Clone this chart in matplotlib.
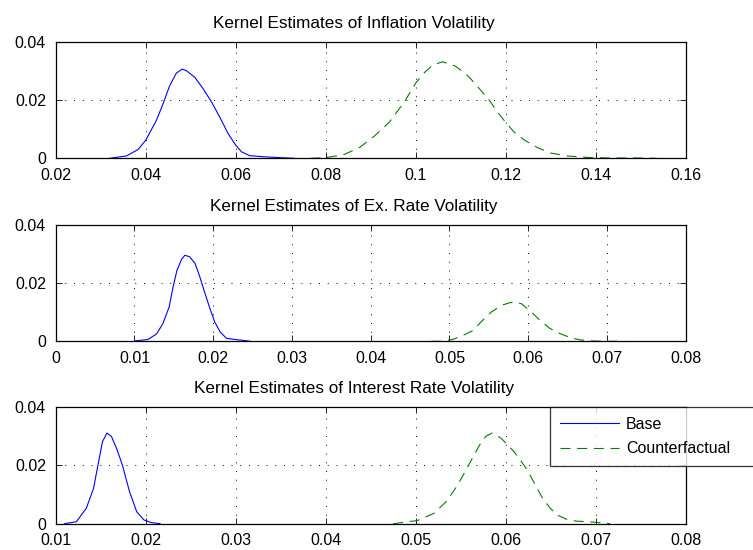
import matplotlib
matplotlib.use('Agg')
import matplotlib.pyplot as plt

plt.rcParams['font.family'] = ['Liberation Sans', 'DejaVu Sans']

# Inflation volatility
infl_base_x = [0.0320, 0.0357, 0.0383, 0.0400, 0.0424, 0.0439, 0.0453, 0.0468, 0.0481, 0.0490,
               0.0509, 0.0527, 0.0546, 0.0564, 0.0583, 0.0600, 0.0613, 0.0631, 0.0664, 0.0701, 0.0730]
infl_base_y = [0.0, 0.0008, 0.0030, 0.0062, 0.0131, 0.0189, 0.0248, 0.0292, 0.0306, 0.0301,
               0.0278, 0.0240, 0.0194, 0.0143, 0.0085, 0.0045, 0.0022, 0.0009, 0.0005, 0.0002, 0.0]
infl_cf_x = [0.0766, 0.0800, 0.0841, 0.0875, 0.0908, 0.0942, 0.0975, 0.1001, 0.1020, 0.1039,
             0.1060, 0.1087, 0.1110, 0.1128, 0.1147, 0.1166, 0.1181, 0.1199, 0.1218, 0.1240,
             0.1270, 0.1300, 0.1337, 0.1382, 0.1427, 0.1487, 0.1535]
infl_cf_y = [0.0, 0.0002, 0.0013, 0.0037, 0.0076, 0.0125, 0.0194, 0.0260, 0.0295, 0.0321,
             0.0331, 0.0317, 0.0292, 0.0263, 0.0229, 0.0194, 0.0160, 0.0125, 0.0091, 0.0064,
             0.0037, 0.0018, 0.0008, 0.0003, 0.0001, 0.0001, 0.0]

# Exchange rate volatility
ex_base_x = [0.0100, 0.0117, 0.0128, 0.0136, 0.0144, 0.0149, 0.0154, 0.0160, 0.0164, 0.0170,
             0.0177, 0.0183, 0.0189, 0.0196, 0.0202, 0.0209, 0.0217, 0.0228, 0.0238, 0.0247]
ex_base_y = [0.0001, 0.0006, 0.0025, 0.0060, 0.0117, 0.0186, 0.0244, 0.0282, 0.0295, 0.0290,
             0.0267, 0.0221, 0.0169, 0.0111, 0.0066, 0.0031, 0.0010, 0.0006, 0.0003, 0.0]
ex_cf_x = [0.0477, 0.0489, 0.0504, 0.0517, 0.0530, 0.0540, 0.0553, 0.0566, 0.0576, 0.0585,
           0.0592, 0.0604, 0.0614, 0.0627, 0.0638, 0.0653, 0.0665, 0.0682, 0.0695, 0.0722]
ex_cf_y = [0.0, 0.0, 0.0006, 0.0020, 0.0037, 0.0066, 0.0100, 0.0123, 0.0132, 0.0134,
           0.0128, 0.0100, 0.0075, 0.0045, 0.0029, 0.0013, 0.0005, 0.0001, 0.0, 0.0]

# Interest rate volatility
ir_base_x = [0.0110, 0.0123, 0.0134, 0.0142, 0.0147, 0.0152, 0.0157, 0.0162, 0.0168, 0.0174,
             0.0182, 0.0190, 0.0198, 0.0206, 0.0216]
ir_base_y = [0.0, 0.0007, 0.0053, 0.0121, 0.0202, 0.0282, 0.0311, 0.0299, 0.0255, 0.0202,
             0.0110, 0.0041, 0.0013, 0.0004, 0.0]
ir_cf_x = [0.0475, 0.0502, 0.0520, 0.0534, 0.0545, 0.0555, 0.0563, 0.0571, 0.0578, 0.0585,
           0.0595, 0.0609, 0.0617, 0.0625, 0.0633, 0.0641, 0.0649, 0.0657, 0.0668, 0.0678,
           0.0700, 0.0716]
ir_cf_y = [0.0, 0.0011, 0.0035, 0.0076, 0.0125, 0.0179, 0.0225, 0.0270, 0.0300, 0.0311,
           0.0293, 0.0248, 0.0215, 0.0179, 0.0132, 0.0087, 0.0055, 0.0030, 0.0015, 0.0009,
           0.0005, 0.0]

titles = ['Kernel Estimates of Inflation Volatility',
          'Kernel Estimates of Ex. Rate Volatility',
          'Kernel Estimates of Interest Rate Volatility']
xlims = [(0.02, 0.16), (0.0, 0.08), (0.01, 0.08)]
xticks = [[0.02, 0.04, 0.06, 0.08, 0.1, 0.12, 0.14, 0.16],
          [0, 0.01, 0.02, 0.03, 0.04, 0.05, 0.06, 0.07, 0.08],
          [0.01, 0.02, 0.03, 0.04, 0.05, 0.06, 0.07, 0.08]]
xticklabels = [['0.02', '0.04', '0.06', '0.08', '0.1', '0.12', '0.14', '0.16'],
               ['0', '0.01', '0.02', '0.03', '0.04', '0.05', '0.06', '0.07', '0.08'],
               ['0.01', '0.02', '0.03', '0.04', '0.05', '0.06', '0.07', '0.08']]
yticks = [0, 0.02, 0.04]
yticklabels = ['0', '0.02', '0.04']

series = [(infl_base_x, infl_base_y, infl_cf_x, infl_cf_y),
          (ex_base_x, ex_base_y, ex_cf_x, ex_cf_y),
          (ir_base_x, ir_base_y, ir_cf_x, ir_cf_y)]

fig = plt.figure(figsize=(7.53, 5.5), dpi=100)
bottoms = [0.7122, 0.3795, 0.0478]
axes = []
for i in range(3):
    ax = fig.add_axes([0.074, bottoms[i], 0.8366, 0.212])
    bx, by, cx, cy = series[i]
    ax.plot(bx, by, color='#0000ff', lw=0.8, label='Base')
    ax.plot(cx, cy, color='#008000', lw=0.8, ls=(0, (9, 6)), label='Counterfactual')
    ax.set_xlim(*xlims[i])
    ax.set_ylim(0, 0.04)
    ax.set_xticks(xticks[i])
    ax.set_xticklabels(xticklabels[i])
    ax.set_yticks(yticks)
    ax.set_yticklabels(yticklabels)
    ax.grid(True, color='black', ls=(0, (1, 8)), lw=0.7)
    ax.tick_params(direction='in', top=True, right=True, labelsize=11.5, length=4, width=0.6)
    ax.tick_params(axis='x', pad=7)
    ax.tick_params(axis='y', pad=7)
    for s in ax.spines.values():
        s.set_linewidth(0.9)
    # titles sit a little left of the axes centre in the original
    ax.set_title(titles[i], fontsize=12.3, pad=10, x=0.4735)
    axes.append(ax)

leg = axes[2].legend(loc='upper left', bbox_to_anchor=(0.7304, 0.1495, 0.30, 0.11),
                     bbox_transform=fig.transFigure, mode='expand', fontsize=11.5,
                     frameon=True, fancybox=False, edgecolor='black', borderpad=0.6,
                     borderaxespad=0, handlelength=3.75, handletextpad=0.4, labelspacing=0.6)
leg.get_frame().set_linewidth(0.9)

fig.savefig('out.png', dpi=100)
